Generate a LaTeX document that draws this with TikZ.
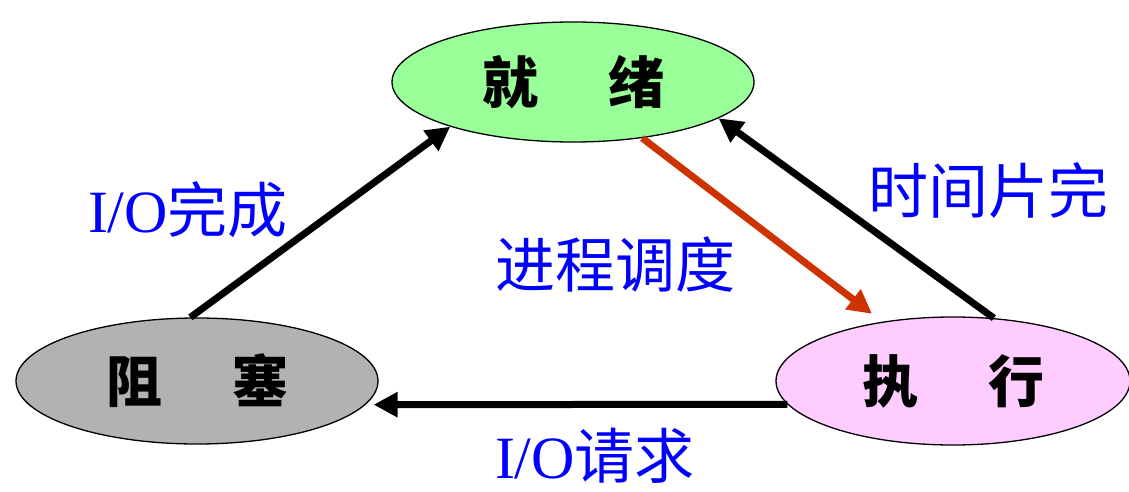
\documentclass[tikz,border=0pt]{standalone}
\usepackage{fontspec}
\setmainfont{Liberation Serif}
\newfontfamily\cjk{Noto Sans CJK SC}
\usetikzlibrary{shapes.geometric,arrows.meta}
\definecolor{readyc}{RGB}{153,255,153}
\definecolor{blockc}{RGB}{178,178,178}
\definecolor{runc}{RGB}{255,204,255}
\definecolor{schedc}{RGB}{204,51,0}
\definecolor{labc}{RGB}{0,0,255}
\tikzset{
  state/.style={ellipse, draw=black, line width=1.3pt, inner sep=0pt,
    font=\cjk\bfseries\fontsize{56}{60}\selectfont},
  trans/.style={line width=7pt, -{Triangle[length=24pt,width=24pt]}},
  lab/.style={text=labc, font=\fontsize{60}{66}\selectfont, inner sep=0pt}
}
\begin{document}
\begin{tikzpicture}[x=1pt,y=-1pt]
\useasboundingbox (0,0) rectangle (1129,492);
\fill[white] (0,0) rectangle (1129,492);
\node[state, fill=readyc, minimum width=362pt, minimum height=120pt] (R) at (573,82) {就\hspace{70pt}绪\hspace{22pt}};
\node[state, fill=blockc, minimum width=362pt, minimum height=126pt] (B) at (197,381) {阻\hspace{70pt}塞\hspace{18pt}};
\node[state, fill=runc, minimum width=354pt, minimum height=128pt] (E) at (953,381) {执\hspace{70pt}行\hspace{16pt}};
\draw[trans] (B.96) -- (R.200);
\draw[trans, draw=schedc, fill=schedc, shorten >=13pt] (R.321) -- (E.140);
\draw[trans] (E.57) -- (R.346);
\draw[trans, shorten >=8pt] (E.188) -- (B.352);
\node[lab] (l1) at (188,210) {I/O{\cjk 完成}};
\node[lab] (l2) at (615,265) {\cjk 进程调度};
\node[lab] (l3) at (988,190) {\cjk 时间片完};
\node[lab] (l4) at (595,456) {I/O{\cjk 请求}};
\end{tikzpicture}
\end{document}
